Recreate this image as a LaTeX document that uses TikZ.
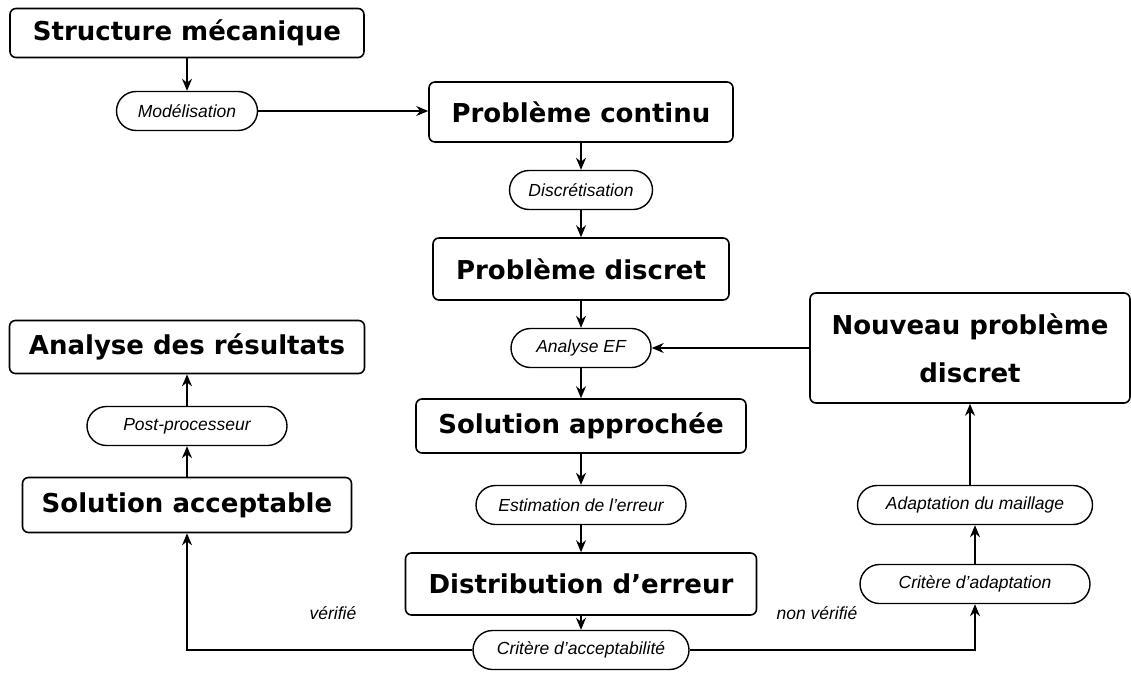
\documentclass[tikz,border=0pt]{standalone}
\usepackage{fontspec}
\setmainfont{Liberation Sans}
\newfontfamily\boxfont{DejaVu Sans}
\usetikzlibrary{arrows.meta}
\begin{document}
\begin{tikzpicture}[x=1pt,y=-1pt,
  bigbox/.style={draw, line width=1.6pt, rounded corners=6pt, inner sep=0pt, align=center,
    font=\boxfont\bfseries\fontsize{26}{48}\selectfont},
  oval/.style={draw, line width=1.4pt, rounded corners=19.5pt, inner sep=0pt, minimum height=39pt,
    font=\itshape\fontsize{17.5}{20}\selectfont},
  lbl/.style={font=\itshape\fontsize{17.5}{20}\selectfont, inner sep=0pt},
  arr/.style={line width=1.6pt, -{Stealth[length=12pt,width=10pt]}}]
\useasboundingbox (0,0) rectangle (1131,680);
% boxes
\node[bigbox, minimum width=354pt, minimum height=49pt] (sm) at (187,33) {Structure mécanique};
\node[oval, minimum width=141pt] (mod) at (187,111) {Modélisation};
\node[bigbox, minimum width=304pt, minimum height=60pt] (pc) at (581,112) {Problème continu};
\node[oval, minimum width=143pt] (disc) at (581,190) {Discrétisation};
\node[bigbox, minimum width=296pt, minimum height=62pt] (pd) at (581,269) {Problème discret};
\node[oval, minimum width=140pt] (aef) at (581,348) {Analyse EF};
\node[bigbox, minimum width=330pt, minimum height=54pt] (sap) at (581,426) {Solution approchée};
\node[oval, minimum width=210pt] (est) at (581,505) {Estimation de l’erreur};
\node[bigbox, minimum width=351pt, minimum height=62pt] (de) at (581,584) {Distribution d’erreur};
\node[oval, minimum width=216pt] (crit) at (581,650) {Critère d’acceptabilité};
% left column
\node[bigbox, minimum width=355pt, minimum height=53pt] (ar) at (187,347) {Analyse des résultats};
\node[oval, minimum width=200pt] (post) at (187,426) {Post-processeur};
\node[bigbox, minimum width=329pt, minimum height=55pt] (sacc) at (187,505) {Solution acceptable};
% right column
\node[bigbox, minimum width=320pt, minimum height=110pt] (npd) at (970,348) {Nouveau problème\\discret};
\node[oval, minimum width=235pt] (adm) at (975,505) {Adaptation du maillage};
\node[oval, minimum width=230pt] (cad) at (975,584) {Critère d’adaptation};
% labels
\node[lbl] (ver) at (333,613) {vérifié};
\node[lbl] (nver) at (817,613) {non vérifié};
% connectors
\draw[arr] (sm) -- (mod);
\draw[arr] (mod.east) -- (pc.west |- mod.east);
\draw[arr] (pc) -- (disc);
\draw[arr] (disc) -- (pd);
\draw[arr] (pd) -- (aef);
\draw[arr] (aef) -- (sap);
\draw[arr] (sap) -- (est);
\draw[arr] (est) -- (de);
\draw[arr] (de) -- (crit);
\draw[arr] (crit.west) -| (sacc.south);
\draw[arr] (crit.east) -| (cad.south);
\draw[arr] (cad) -- (adm);
\draw[arr] (adm.north -| npd) -- (npd.south);
\draw[arr] (npd.west) -- (aef.east);
\draw[arr] (sacc) -- (post);
\draw[arr] (post) -- (ar);
\end{tikzpicture}
\end{document}
